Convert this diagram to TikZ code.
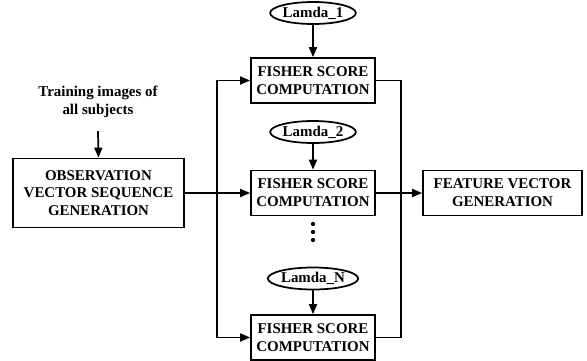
\documentclass[tikz,border=0pt]{standalone}
\usepackage{fontspec}
\setmainfont{Liberation Serif}
\usetikzlibrary{arrows.meta,shapes.geometric}
\definecolor{ink}{HTML}{000000}

\begin{document}
\begin{tikzpicture}[x=0.75pt,y=-0.75pt,line cap=butt,line join=miter,
    font=\fontsize{11.2pt}{13.4pt}\selectfont\bfseries,
    block/.style={draw=ink,line width=1.3pt,align=center,inner sep=0pt,
      minimum width=93pt,minimum height=33.75pt},
    model/.style={draw=ink,line width=1.3pt,ellipse,inner sep=0pt,
      minimum width=60pt,minimum height=16.5pt},
    wire/.style={draw=ink,line width=1.3pt},
    feed/.style={wire,-{Triangle[length=7.5pt,width=6pt]}}]
  \useasboundingbox (0,0) rectangle (587,361);
  % input side
  \node[align=center,text=ink] (train) at (98,102) {Training images of\\all subjects};
  \node[block,minimum width=128.25pt,minimum height=51.75pt] (obs) at (98.5,193)
    {OBSERVATION\\VECTOR SEQUENCE\\GENERATION};
  % one scorer per model
  \node[model] (lam1) at (313,13) {Lamda\_1};
  \node[block] (fish1) at (313,80.5) {FISHER SCORE\\COMPUTATION};
  \node[model] (lam2) at (313,132) {Lamda\_2};
  \node[block] (fish2) at (313,193) {FISHER SCORE\\COMPUTATION};
  \node[model] (lamN) at (313,278.5) {Lamda\_N};
  \node[block] (fish3) at (313,337.5) {FISHER SCORE\\COMPUTATION};
  \node[block,minimum width=119.25pt] (feat) at (502.5,193) {FEATURE VECTOR\\GENERATION};
  \foreach \y in {224,232,240}
    \fill[ink] (313,\y) circle (1.6pt);
  % buses
  \coordinate (lbus) at (217,193);
  \coordinate (rbus) at (401,193);
  \draw[feed] ([yshift=-6.5pt]train.south) -- (obs.north);
  \draw[feed] (lam1) -- (fish1);
  \draw[feed] (lam2) -- (fish2);
  \draw[feed] (lamN) -- (fish3);
  \draw[feed] (obs.east) -- (fish2.west);
  \draw[feed] (lbus) |- (fish1.west);
  \draw[feed] (lbus) |- (fish3.west);
  \draw[wire] (fish1.east) -| (rbus);
  \draw[wire] (fish3.east) -| (rbus);
  \draw[feed] (fish2.east) -- (feat.west);
\end{tikzpicture}
\end{document}
